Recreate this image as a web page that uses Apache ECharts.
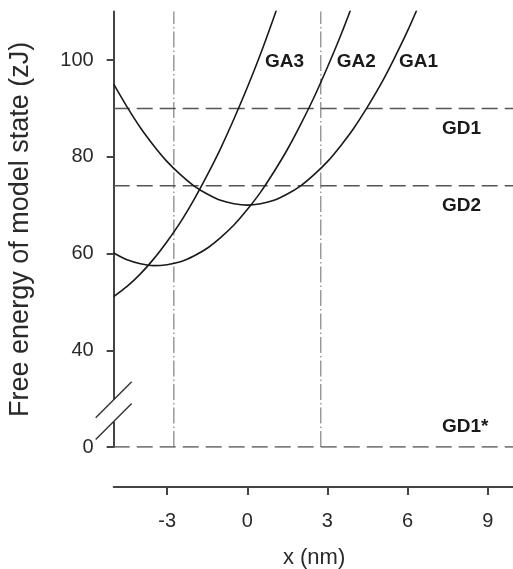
<!DOCTYPE html>
<html>
<head>
<meta charset="utf-8">
<script src="https://cdn.jsdelivr.net/npm/echarts@6/dist/echarts.min.js"></script>
<style>
  html, body { margin: 0; padding: 0; background: #fff; }
  #chart { width: 513px; height: 569px; }
</style>
</head>
<body>
<div id="chart"></div>
<script>
// Positions along the reaction coordinate (nm)
const xSamples = [-5, -4.5, -4, -3.5, -3, -2.5, -2, -1.5, -1, -0.5, 0, 0.5, 1, 1.5, 2, 2.5, 3, 3.5, 4, 4.5, 5, 5.5, 6, 6.5];

// Free energy of each attached state (zJ), sampled at xSamples
const ga1 = [95, 90.3, 86, 82.3, 79, 76.3, 74, 72.3, 71, 70.3, 70, 70.3, 71, 72.3, 74, 76.3, 79, 82.3, 86, 90.3, 95, 100.3, 106, 112.3];
const ga2 = [60.1, 58.7, 57.9, 57.5, 57.7, 58.3, 59.5, 61.1, 63.3, 65.9, 69.1, 72.7, 76.9, 81.5, 86.7, 92.3, 98.5, 105.1, 112.3];
const ga3 = [51.1, 53.2, 55.8, 58.9, 62.5, 66.5, 71.1, 76.2, 81.7, 87.8, 94.3, 101.3, 108.9, 116.9];
const gaNames = ['GA1', 'GA2', 'GA3'];

// Detached-state energy levels (zJ)
const gdLevels = [90, 74, 0];
const gdNames = ['GD1', 'GD2', 'GD1*'];

// Binding-site positions (nm)
const sitePositions = [-2.75, 2.75];

// Axis ticks
const xTicks = [-3, 0, 3, 6, 9];
const yTicks = [0, 40, 60, 80, 100];

// The energy axis is broken between 0 and 40: values below 40 are compressed
function toAxis(v) { return v >= 40 ? v : 20 + v / 2; }
function fromAxis(a) { return a >= 40 ? a : (a - 20) * 2; }

const X_MIN = -5, X_MAX = 10, Y_TOP = 110;
const FONT = 'Liberation Sans, Arial, Helvetica, sans-serif';
const curveColor = '#1a1a1a';
const textColor = '#2a2a2a';

const chart = echarts.init(document.getElementById('chart'), null, { renderer: 'canvas' });

function curveSeries(name, values) {
  return {
    name: name,
    type: 'line',
    smooth: 0.3,
    symbol: 'none',
    clip: true,
    silent: true,
    lineStyle: { color: curveColor, width: 1.6 },
    data: values.map((v, i) => [xSamples[i], toAxis(v)]),
    z: 5
  };
}

const series = [];

// Horizontal detached-state levels
gdLevels.forEach((lv, i) => {
  series.push({
    name: gdNames[i],
    type: 'line',
    symbol: 'none',
    silent: true,
    lineStyle: { color: '#555', width: 1.5, type: [16, 7] },
    data: [[X_MIN, toAxis(lv)], [X_MAX, toAxis(lv)]],
    z: 3
  });
});

// Vertical binding-site markers
sitePositions.forEach((xp) => {
  series.push({
    type: 'line',
    symbol: 'none',
    silent: true,
    lineStyle: { color: '#9a9a9a', width: 1.5, type: [16, 3, 1.5, 3] },
    data: [[xp, toAxis(0)], [xp, Y_TOP]],
    z: 2
  });
});

series.push(curveSeries(gaNames[0], ga1));
series.push(curveSeries(gaNames[1], ga2));
series.push(curveSeries(gaNames[2], ga3));

const markLabel = {
  show: true, position: [0, 0], align: 'left', verticalAlign: 'middle',
  formatter: (p) => p.name,
  fontFamily: FONT, fontSize: 19, fontWeight: 'bold', color: '#1a1a1a', opacity: 1
};

// Curve labels near the top of each curve
const gaLabelAnchors = [[5.68, 99.6], [3.35, 99.6], [0.66, 99.6]];
series.push({
  type: 'scatter',
  symbolSize: 0,
  silent: true,
  itemStyle: { opacity: 1 },
  data: gaLabelAnchors.map((p, i) => ({ value: p, name: gaNames[i] })),
  label: markLabel,
  z: 10
});

// Level labels, placed under (or above, for the lowest) each level line
const gdLabelX = 7.29;
series.push({
  type: 'scatter',
  symbolSize: 0,
  silent: true,
  itemStyle: { opacity: 1 },
  data: gdLevels.map((lv, i) => ({
    value: [gdLabelX, toAxis(lv)],
    name: gdNames[i],
    label: { offset: [0, lv === 0 ? -20 : 20] }
  })),
  label: markLabel,
  z: 10
});

const axisColor = '#444';

chart.setOption({
  animation: false,
  backgroundColor: '#fff',
  grid: { left: 113.7, right: -1.4, top: 11.6, bottom: 121.9, outerBoundsMode: 'none' },
  xAxis: {
    type: 'value',
    min: X_MIN, max: X_MAX,
    offset: 40,
    name: 'x (nm)',
    nameLocation: 'middle',
    nameGap: 60,
    nameTextStyle: { fontFamily: FONT, fontSize: 22, color: textColor },
    axisLine: { show: true, onZero: false, lineStyle: { color: axisColor, width: 2 } },
    axisTick: { show: true, customValues: xTicks, length: 8, lineStyle: { color: axisColor, width: 2 } },
    axisLabel: { customValues: xTicks, margin: 24, fontFamily: FONT, fontSize: 20, color: textColor },
    splitLine: { show: false }
  },
  yAxis: {
    type: 'value',
    min: toAxis(0), max: Y_TOP,
    name: 'Free energy of model state (zJ)',
    nameLocation: 'middle',
    nameGap: 80,
    nameTextStyle: { fontFamily: FONT, fontSize: 27, color: textColor },
    axisLine: { show: true, onZero: false, lineStyle: { color: axisColor, width: 2 } },
    axisTick: { show: true, customValues: yTicks.map(toAxis), length: 7, lineStyle: { color: axisColor, width: 2 } },
    axisLabel: {
      customValues: yTicks.map(toAxis), margin: 20,
      formatter: (v) => String(fromAxis(v)),
      fontFamily: FONT, fontSize: 20, color: textColor
    },
    splitLine: { show: false }
  },
  series: series
});

// Axis-break symbol: gap in the energy axis with two slanted strokes
const breakHi = chart.convertToPixel({ gridIndex: 0 }, [X_MIN, 29.8]);
const breakLo = chart.convertToPixel({ gridIndex: 0 }, [X_MIN, 25.3]);
const s = 18;
chart.setOption({
  graphic: [
    { type: 'rect', z: 100, shape: { x: breakHi[0] - 3, y: breakHi[1], width: 6, height: breakLo[1] - breakHi[1] }, style: { fill: '#fff' } },
    { type: 'line', z: 101, shape: { x1: breakHi[0] - s, y1: breakHi[1] + s, x2: breakHi[0] + s, y2: breakHi[1] - s }, style: { stroke: '#333', lineWidth: 1.4 } },
    { type: 'line', z: 101, shape: { x1: breakLo[0] - s, y1: breakLo[1] + s, x2: breakLo[0] + s, y2: breakLo[1] - s }, style: { stroke: '#333', lineWidth: 1.4 } }
  ]
});
</script>
</body>
</html>
